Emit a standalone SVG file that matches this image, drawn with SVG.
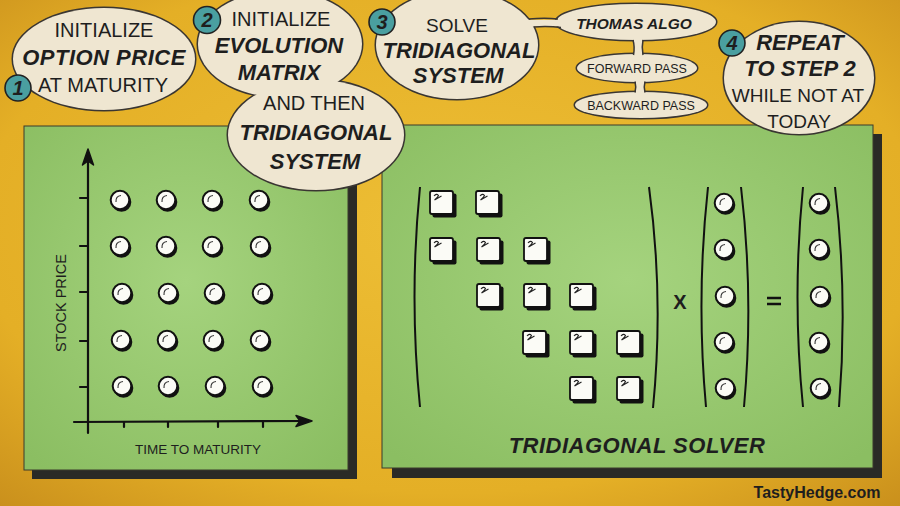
<svg xmlns="http://www.w3.org/2000/svg" xmlns:xlink="http://www.w3.org/1999/xlink" width="900" height="506" viewBox="0 0 900 506">
<defs>
<radialGradient id="bg" cx="50%" cy="45%" r="75%">
<stop offset="0" stop-color="#EDBE35"/>
<stop offset="0.7" stop-color="#E4AF26"/>
<stop offset="1" stop-color="#C98F1C"/>
</radialGradient>
<radialGradient id="gr" cx="50%" cy="45%" r="70%">
<stop offset="0" stop-color="#A5D37E"/>
<stop offset="1" stop-color="#8BBE62"/>
</radialGradient>
<g id="dot">
<circle cx="1.5" cy="2" r="9.8" fill="#111"/>
<circle cx="0" cy="0" r="9.3" fill="#FBFBF6" stroke="#111" stroke-width="2"/>
<path d="M-4,2 Q-4.5,-4 1,-4.5" fill="none" stroke="#333" stroke-width="1.1"/>
</g>
<g id="sq">
<rect x="-9.5" y="-9.5" width="24" height="24" rx="2" fill="#111"/>
<rect x="-12" y="-12" width="23" height="23" rx="2" fill="#FBFBF6" stroke="#111" stroke-width="1.8"/>
<path d="M-8,-7 q2.5,-3 4.5,-0.5 q-1,2.5 -4,4.5 l7,-4" fill="none" stroke="#222" stroke-width="1.1"/>
</g>
<style>
.t{font-family:"Liberation Sans",Arial,sans-serif;fill:#1e1e1e;text-anchor:middle}
.r{font-size:20px}
.b{font-size:22px;font-weight:bold;font-style:italic}
.bo{fill:none;stroke:#3a3632;stroke-width:3}
.bf{fill:#EFE6D1}
.badge{fill:#4A9FA0;stroke:#222;stroke-width:1.6}
.bn{font-family:"Liberation Sans",Arial,sans-serif;font-size:20px;font-weight:bold;font-style:italic;fill:#1e1e1e;text-anchor:middle}
.ln{fill:none;stroke:#111;stroke-width:2.2;stroke-linecap:round}
.par{fill:none;stroke:#111;stroke-width:2}
.pan{fill:url(#gr);stroke:#3b3b2c;stroke-width:1}
.sh{fill:#2a2a26}
</style>
</defs>
<rect width="900" height="506" fill="url(#bg)"/>

<g id="panel-grid">
<rect class="sh" x="32" y="134" width="325" height="345"/>
<rect class="pan" x="24" y="126" width="324" height="344"/>
<path class="ln" d="M88,433 L88,154"/>
<path d="M82.5,165 L88,149 L93.5,165 L88,161 Z" fill="#111" stroke="#111" stroke-width="1.5" stroke-linejoin="round"/>
<path class="ln" d="M74,422 L306,421"/>
<path d="M296,415.5 L312,421 L296,426.5 L300,421 Z" fill="#111" stroke="#111" stroke-width="1.5" stroke-linejoin="round"/>
<path class="ln" d="M80,198H88M80,246H88M80,292H88M80,341H88M80,387H88M124,422V427M168,422V427M218,422V427M263,422V427"/>
<use xlink:href="#dot" x="120" y="200"/><use xlink:href="#dot" x="166" y="200"/><use xlink:href="#dot" x="212" y="200"/><use xlink:href="#dot" x="259" y="200"/>
<use xlink:href="#dot" x="120" y="246"/><use xlink:href="#dot" x="166" y="246"/><use xlink:href="#dot" x="212" y="246"/><use xlink:href="#dot" x="260" y="246"/>
<use xlink:href="#dot" x="122" y="293"/><use xlink:href="#dot" x="168" y="293"/><use xlink:href="#dot" x="214" y="293"/><use xlink:href="#dot" x="262" y="293"/>
<use xlink:href="#dot" x="121" y="340"/><use xlink:href="#dot" x="167" y="340"/><use xlink:href="#dot" x="213" y="340"/><use xlink:href="#dot" x="260" y="340"/>
<use xlink:href="#dot" x="122" y="386"/><use xlink:href="#dot" x="168" y="386"/><use xlink:href="#dot" x="215" y="386"/><use xlink:href="#dot" x="262" y="386"/>
<text class="t" x="198" y="454" font-size="13.5">TIME TO MATURITY</text>
<text class="t" transform="translate(66,303) rotate(-90)" font-size="14.5">STOCK PRICE</text>
</g>

<g id="panel-solver">
<rect class="sh" x="392" y="134" width="490" height="344"/>
<rect class="pan" x="382" y="125" width="491" height="343"/>
<path class="par" d="M420,187 Q409,297 420,407"/>
<path class="par" d="M649,187 Q664,297 653,408"/>
<use xlink:href="#sq" x="442" y="203"/><use xlink:href="#sq" x="488" y="203"/>
<use xlink:href="#sq" x="442" y="250"/><use xlink:href="#sq" x="489" y="250"/><use xlink:href="#sq" x="536" y="250"/>
<use xlink:href="#sq" x="489" y="296"/><use xlink:href="#sq" x="536" y="296"/><use xlink:href="#sq" x="582" y="296"/>
<use xlink:href="#sq" x="535" y="343"/><use xlink:href="#sq" x="582" y="343"/><use xlink:href="#sq" x="629" y="343"/>
<use xlink:href="#sq" x="582" y="389"/><use xlink:href="#sq" x="629" y="389"/>
<text class="t" x="680" y="309" font-size="20" font-weight="bold">X</text>
<path class="par" d="M708,187 Q696,297 706,407"/>
<path class="par" d="M741,187 Q754,297 744,407"/>
<use xlink:href="#dot" x="724" y="203"/><use xlink:href="#dot" x="724" y="249"/><use xlink:href="#dot" x="725" y="296"/><use xlink:href="#dot" x="724" y="342"/><use xlink:href="#dot" x="725" y="388"/>
<path d="M767,298H781M767,304H781" stroke="#111" stroke-width="2.6"/>
<path class="par" d="M803,187 Q792,297 803,407"/>
<path class="par" d="M835,187 Q848,297 839,407"/>
<use xlink:href="#dot" x="819" y="203"/><use xlink:href="#dot" x="819" y="249"/><use xlink:href="#dot" x="820" y="296"/><use xlink:href="#dot" x="819" y="342"/><use xlink:href="#dot" x="820" y="388"/>
<text class="t b" x="637" y="453" letter-spacing="0.5">TRIDIAGONAL SOLVER</text>
</g>

<g id="step1">
<ellipse class="bo" cx="104" cy="59" rx="91" ry="51"/>
<ellipse class="bf" cx="104" cy="59" rx="91" ry="51"/>
<text class="t r" x="104" y="37">INITIALIZE</text>
<text class="t b" x="104" y="65" letter-spacing="0.5">OPTION PRICE</text>
<text class="t r" x="103" y="92">AT MATURITY</text>
<circle class="badge" cx="18" cy="88" r="13"/>
<text class="bn" x="18" y="95">1</text>
</g>

<g id="step2">
<ellipse class="bo" cx="280" cy="44" rx="82" ry="53"/>
<ellipse class="bo" cx="316" cy="135" rx="88" ry="55"/>
<ellipse class="bf" cx="280" cy="44" rx="82" ry="53"/>
<ellipse class="bf" cx="316" cy="135" rx="88" ry="55"/>
<text class="t r" x="281" y="26">INITIALIZE</text>
<text class="t b" x="279" y="53">EVOLUTION</text>
<text class="t b" x="279" y="80">MATRIX</text>
<text class="t r" x="314" y="110">AND THEN</text>
<text class="t b" x="316" y="140">TRIDIAGONAL</text>
<text class="t b" x="315" y="169">SYSTEM</text>
<circle class="badge" cx="207" cy="20" r="13.5"/>
<text class="bn" x="207" y="27">2</text>
</g>

<g id="step3">
<ellipse class="bo" cx="457" cy="45" rx="81" ry="54"/>
<ellipse class="bf" cx="457" cy="45" rx="81" ry="54"/>
<text class="t" x="457" y="32" font-size="19">SOLVE</text>
<text class="t b" x="459" y="58" font-size="21">TRIDIAGONAL</text>
<text class="t b" x="458" y="83" font-size="21">SYSTEM</text>
<circle class="badge" cx="382" cy="22" r="13"/>
<text class="bn" x="382" y="29">3</text>
</g>

<g id="thomas">
<ellipse class="bo" cx="636" cy="22" rx="80" ry="18"/>
<ellipse class="bf" cx="636" cy="22" rx="80" ry="18"/>
<text class="t" x="634" y="29" font-size="15.5" font-weight="bold" font-style="italic">THOMAS ALGO</text>
</g>

<g id="forward">
<ellipse class="bo" cx="637" cy="68" rx="60" ry="14"/>
<ellipse class="bf" cx="637" cy="68" rx="60" ry="14"/>
<text class="t" x="637" y="73" font-size="12.5">FORWARD PASS</text>
</g>

<g id="backward">
<ellipse class="bo" cx="641" cy="105" rx="66" ry="13"/>
<ellipse class="bf" cx="641" cy="105" rx="66" ry="13"/>
<text class="t" x="641" y="110" font-size="12.5">BACKWARD PASS</text>
</g>

<g id="step4">
<ellipse class="bo" cx="799" cy="78" rx="75" ry="56"/>
<ellipse class="bf" cx="799" cy="78" rx="75" ry="56"/>
<text class="t b" x="800" y="50">REPEAT</text>
<text class="t b" x="800" y="76">TO STEP 2</text>
<text class="t" x="798" y="102" font-size="19">WHILE NOT AT</text>
<text class="t" x="799" y="128" font-size="19">TODAY</text>
<circle class="badge" cx="732" cy="43" r="13"/>
<text class="bn" x="732" y="50">4</text>
</g>

<g id="connectors">
<rect class="bf" x="526" y="19.8" width="37" height="6.6"/>
<path d="M529,19 Q545,17.5 558,19 M534,27 Q548,26 561,27.5" fill="none" stroke="#3a3632" stroke-width="1.5"/>
<rect class="bf" x="634" y="36" width="8.5" height="21"/>
<path d="M633,40 Q635,47 633.5,55 M643,40 Q641.5,47 643,55" fill="none" stroke="#3a3632" stroke-width="1.5"/>
<rect class="bf" x="636" y="78" width="8.5" height="18"/>
<path d="M635,81.5 Q636.5,87 635,92.5 M645,81.5 Q643.5,87 645,92.5" fill="none" stroke="#3a3632" stroke-width="1.5"/>
</g>

<text class="t" x="817" y="498" font-size="16" font-weight="bold" fill="#111">TastyHedge.com</text>
</svg>
